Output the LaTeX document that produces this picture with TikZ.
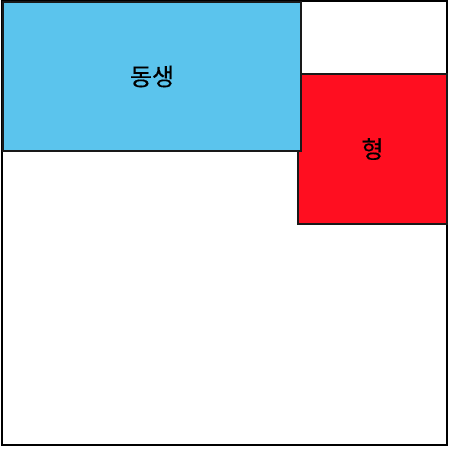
\documentclass[tikz,border=0pt]{standalone}
\usepackage{fontspec}
\setmainfont{Noto Sans CJK KR}
\newfontfamily\labelfont{Noto Sans CJK KR}[FakeBold=0.3]
\usepackage{tikz}
\usetikzlibrary{positioning}
\definecolor{youngblue}{RGB}{91,196,237}
\definecolor{elderred}{RGB}{255,14,32}

\begin{document}
\begin{tikzpicture}[
    x=1pt, y=-1pt,
    frame/.style={draw=black, line width=1.4pt, minimum width=445pt, minimum height=444pt, inner sep=0pt},
    member/.style={draw=black!90, line width=1.1pt, inner sep=0pt, font=\labelfont\fontsize{24}{28}\selectfont}
]
\useasboundingbox (0,0) rectangle (454,451);
\node[frame] (room) at (224.5,223) {};
\node[member, fill=elderred, minimum width=149pt, minimum height=150pt] (hyeong) at (372.5,149) {형};
\node[member, fill=youngblue, minimum width=298pt, minimum height=149pt] (dongsaeng) at (152,76.5) {동생};
\end{tikzpicture}
\end{document}
